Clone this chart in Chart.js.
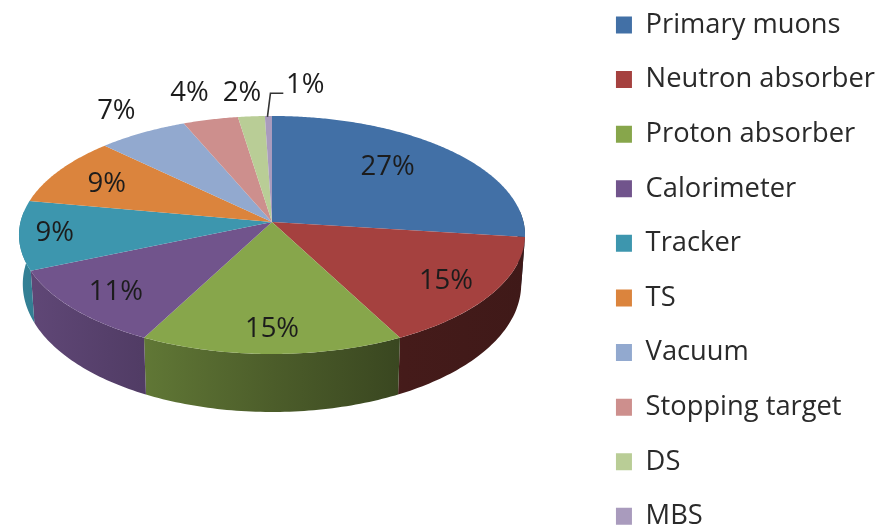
<!DOCTYPE html>
<html>
<head>
<meta charset="utf-8">
<style>
html, body { margin: 0; padding: 0; width: 895px; height: 529px; overflow: hidden; background: #fff; }
#wrap { position: absolute; left: 0; top: -18px; width: 895px; height: 600px; }
canvas { filter: blur(0.5px); }
</style>
<script src="https://cdn.jsdelivr.net/npm/chart.js@4"></script>
</head>
<body>
<div id="wrap"><canvas id="pie"></canvas></div>
<script>
const categories = ['Primary muons', 'Neutron absorber', 'Proton absorber', 'Calorimeter', 'Tracker', 'TS', 'Vacuum', 'Stopping target', 'DS', 'MBS'];
const shares = [27, 15.4, 15.2, 10.9, 9.4, 9.4, 6.4, 3.9, 1.9, 0.5];
const shareLabels = ['27%', '15%', '15%', '11%', '9%', '9%', '7%', '4%', '2%', '1%'];
const sliceColors = ['#4270a6', '#a5413f', '#87a64b', '#71548c', '#3d96ae', '#db843d', '#92a9cf', '#cd8f8d', '#b9cd96', '#a99bbd'];

// where each percent label sits: radius as fraction of the pie, and angle shift from mid slice (degrees)
const labelRadius = [0.69, 0.81, 0.83, 0.81, 0.86, 0.76, 1.26, 1.30, 1.25, 1.34];
const labelShift = [-4, 1, 0, -1, 0, -1, 1, -1, -1, 7.4];

// perspective of the disc
const cx = 272, cy = 240, rx = 251.5, ry = 117.6, persp = 0.109;
const FONT = '"Open Sans", sans-serif';

function project(t, r) {
    const X = Math.cos(t) * r, Y = Math.sin(t) * r;
    const w = 1 - persp * Y;
    return { x: cx + rx * X / w, y: cy + ry * Y / w };
}

// lower rim of the disc, under the point at angle t
function lowerRim(t) {
    const p = project(t, 1);
    return { x: cx + (p.x - cx) * 0.985, y: p.y + 48 + 10 * Math.sin(t) };
}

function darken(hex, f) {
    const n = parseInt(hex.slice(1), 16);
    const c = [n >> 16, (n >> 8) & 255, n & 255].map(v => Math.round(v * f));
    return `rgb(${c[0]},${c[1]},${c[2]})`;
}

function wallFill(ctx, color) {
    const g = ctx.createLinearGradient(20, 0, 525, 0);
    g.addColorStop(0, darken(color, 0.86));
    g.addColorStop(0.24, darken(color, 0.72));
    g.addColorStop(0.5, darken(color, 0.56));
    g.addColorStop(0.76, darken(color, 0.42));
    g.addColorStop(1, darken(color, 0.38));
    return g;
}

const perspectivePie = {
    id: 'perspectivePie',
    beforeDatasetsDraw(chart) {
        const ctx = chart.ctx;
        const arcs = chart.getDatasetMeta(0).data;
        const step = Math.PI / 180;

        // side wall, only the front half shows
        arcs.forEach((arc, i) => {
            const from = Math.max(arc.startAngle, -0.1);
            const to = Math.min(arc.endAngle, Math.PI + 0.1);
            if (to <= from) return;
            ctx.beginPath();
            for (let t = from; t < to; t += step) {
                const p = project(t, 1);
                ctx.lineTo(p.x, p.y);
            }
            let p = project(to, 1);
            ctx.lineTo(p.x, p.y);
            p = lowerRim(to);
            ctx.lineTo(p.x, p.y);
            for (let t = to; t > from; t -= step) {
                p = lowerRim(t);
                ctx.lineTo(p.x, p.y);
            }
            p = lowerRim(from);
            ctx.lineTo(p.x, p.y);
            ctx.closePath();
            ctx.fillStyle = wallFill(ctx, sliceColors[i]);
            ctx.fill();
        });

        // top face
        arcs.forEach((arc, i) => {
            ctx.beginPath();
            const c = project(0, 0);
            ctx.moveTo(c.x, c.y);
            for (let t = arc.startAngle; t < arc.endAngle; t += step / 2) {
                const p = project(t, 1);
                ctx.lineTo(p.x, p.y);
            }
            const e = project(arc.endAngle, 1);
            ctx.lineTo(e.x, e.y);
            ctx.closePath();
            ctx.fillStyle = sliceColors[i];
            ctx.fill();
        });
    },
    // the plain circular arcs are replaced by the faces above
    beforeDatasetDraw() {
        return false;
    },
    afterDatasetsDraw(chart) {
        const ctx = chart.ctx;
        const arcs = chart.getDatasetMeta(0).data;
        ctx.save();
        ctx.font = '27.5px ' + FONT;
        ctx.textAlign = 'center';
        ctx.textBaseline = 'middle';
        ctx.fillStyle = '#1c1c1c';
        arcs.forEach((arc, i) => {
            const mid = (arc.startAngle + arc.endAngle) / 2;
            const p = project(mid + labelShift[i] * Math.PI / 180, labelRadius[i]);
            ctx.fillText(shareLabels[i], p.x, p.y);
            if (i === arcs.length - 1) {
                // leader line of the smallest slice
                const rim = project(mid, 1);
                ctx.beginPath();
                ctx.moveTo(rim.x - 1, rim.y + 1);
                ctx.lineTo(rim.x + 2, p.y + 8);
                ctx.lineTo(p.x - 22, p.y + 8);
                ctx.strokeStyle = '#333';
                ctx.lineWidth = 1.6;
                ctx.stroke();
            }
        });
        ctx.restore();
    }
};

new Chart(document.getElementById('pie'), {
    type: 'pie',
    data: {
        labels: categories,
        datasets: [{ data: shares, backgroundColor: sliceColors, borderWidth: 0 }]
    },
    options: {
        responsive: true,
        maintainAspectRatio: false,
        animation: false,
        layout: { padding: { right: 10, top: 2 } },
        plugins: {
            tooltip: { enabled: false },
            legend: {
                position: 'right',
                align: 'start',
                labels: {
                    boxWidth: 16,
                    boxHeight: 17,
                    padding: 27.3,
                    color: '#2a2a2a',
                    font: { family: FONT, size: 27.3, lineHeight: 1 }
                }
            }
        }
    },
    plugins: [perspectivePie]
});
</script>
</body>
</html>
